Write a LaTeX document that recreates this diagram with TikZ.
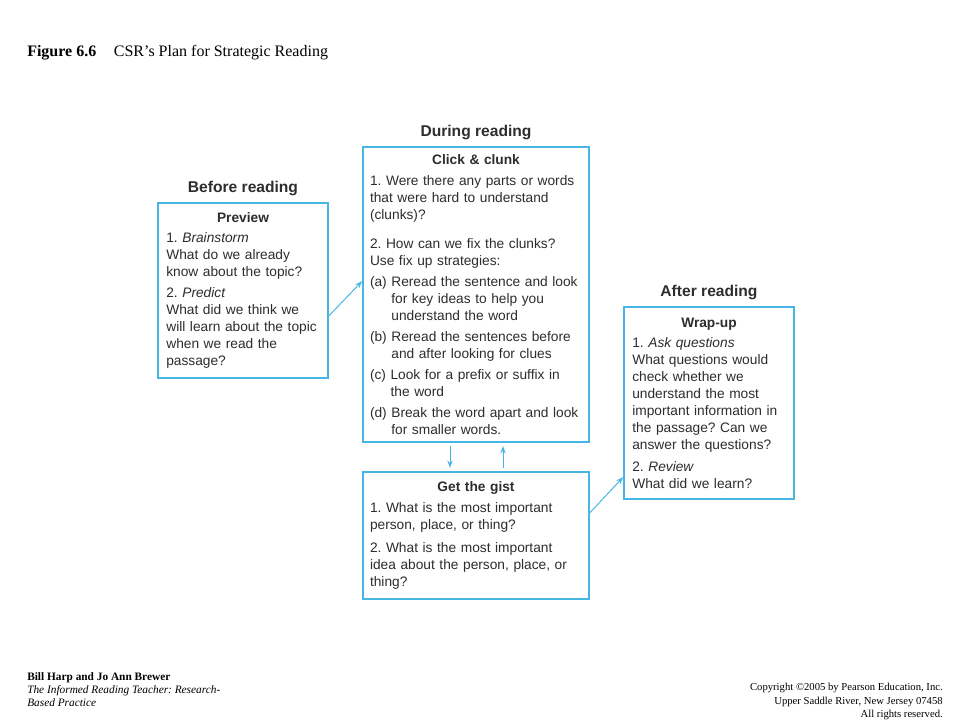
\documentclass[tikz,border=0pt]{standalone}
\usepackage{fontspec}
\setmainfont{Liberation Serif}
\setsansfont{Liberation Sans}
\usetikzlibrary{arrows.meta, positioning}
\definecolor{csrblue}{RGB}{72,182,228}
\definecolor{csrtext}{RGB}{45,45,45}
\setlength\parindent{0pt}
\frenchspacing
\hbadness=10000
\newlength\csrhang
\newcommand\csrtitle[1]{{\centering\bfseries #1\par}\vspace{2.5pt}}
\newcommand\csrgap[1]{\par\vspace{#1}}
\newcommand\csrstep[2]{\par\vspace{3pt}\settowidth{\csrhang}{#1\ }\hangindent=\csrhang\hangafter=1\noindent#1\ #2\par}

\begin{document}
\begin{tikzpicture}[
  x=0.75pt, y=-0.75pt,
  node distance=4.75pt,
  csrbox/.style={rectangle, draw=csrblue, line width=1.1pt, fill=white, text=csrtext, font=\sffamily\fontsize{10.3pt}{12.75pt}\selectfont, inner xsep=6.25pt, inner ysep=0pt, align=left},
  stage/.style={font=\sffamily\bfseries\fontsize{11.7pt}{14pt}\selectfont, text=csrtext, inner sep=0pt},
  arrow/.style={-{Stealth[length=5.5pt, width=4pt]}, csrblue, line width=0.75pt},
  foot/.style={inner sep=0pt, align=left, font=\fontsize{8.5pt}{10pt}\selectfont}
]
\useasboundingbox (0,0) rectangle (960,720);

% caption
\node[anchor=base west, inner sep=0pt, font=\bfseries\fontsize{12pt}{14pt}\selectfont] (figno) at (27,57) {Figure 6.6};
\node[base right=12.75pt of figno, inner sep=0pt, font=\fontsize{12pt}{14pt}\selectfont] (figname) {CSR’s Plan for Strategic Reading};

% the four boxes
\node[csrbox, text width=115pt, minimum height=131.25pt] (preview) at (243,290.5) {%
  \csrtitle{Preview}
  1. \textit{Brainstorm}\\
  What do we already\\
  know about the topic?\csrgap{3pt}
  2. \textit{Predict}\\
  What did we think we\\
  will learn about the topic\\
  when we read the\\
  passage?};

\node[csrbox, text width=159pt, inner xsep=5.25pt, minimum height=221.25pt] (click) at (476,294.5) {%
  \csrtitle{Click \& clunk}
  1. Were there any parts or words\\
  that were hard to understand\\
  (clunks)?\csrgap{9pt}
  2. How can we fix the clunks?\\
  Use fix up strategies:
  \csrstep{(a)}{Reread the sentence and look\newline for key ideas to help you\newline understand the word}
  \csrstep{(b)}{Reread the sentences before\newline and after looking for clues}
  \csrstep{(c)}{Look for a prefix or suffix in\newline the word}
  \csrstep{(d)}{Break the word apart and look\newline for smaller words.}};

\node[csrbox, text width=159pt, inner xsep=5.25pt, minimum height=95.25pt] (gist) at (476,535.5) {%
  \csrtitle{Get the gist}
  1. What is the most important\\
  person, place, or thing?\csrgap{4.5pt}
  2. What is the most important\\
  idea about the person, place, or\\
  thing?};

\node[csrbox, text width=115pt, minimum height=144pt] (wrap) at (709,403) {%
  \csrtitle{Wrap-up}
  1. \textit{Ask questions}\\
  What questions would\\
  check whether we\\
  understand the most\\
  important information in\\
  the passage? Can we\\
  answer the questions?\csrgap{3.5pt}
  2. \textit{Review}\\
  What did we learn?};

% stage headings
\node[stage, above=of preview] (before) {Before reading};
\node[stage, above=of click] (during) {During reading};
\node[stage, above=of wrap] (after) {After reading};

% connectors
\draw[arrow] ([yshift=-19.1pt]preview.east) -- ([yshift=10.1pt]click.west);
\draw[arrow, shorten <=2.5pt, shorten >=2.5pt] ([xshift=-19.5pt]click.south) -- ([xshift=-19.5pt]gist.north);
\draw[arrow, shorten <=2.5pt, shorten >=2.5pt] ([xshift=20.25pt]gist.north) -- ([xshift=20.25pt]click.south);
\draw[arrow] ([yshift=16.9pt]gist.east) -- ([yshift=-55.5pt]wrap.west);

% footer
\node[foot, anchor=north west] (book) at (27,672) {\textbf{Bill Harp and Jo Ann Brewer}\\
  \textit{The Informed Reading Teacher: Research-}\\
  \textit{Based Practice}};
\node[foot, anchor=north east, align=right, font=\fontsize{8pt}{10pt}\selectfont] (rights) at (943,683) {Copyright \textcopyright 2005 by Pearson Education, Inc.\\
  Upper Saddle River, New Jersey 07458\\
  All rights reserved.};
\end{tikzpicture}
\end{document}
